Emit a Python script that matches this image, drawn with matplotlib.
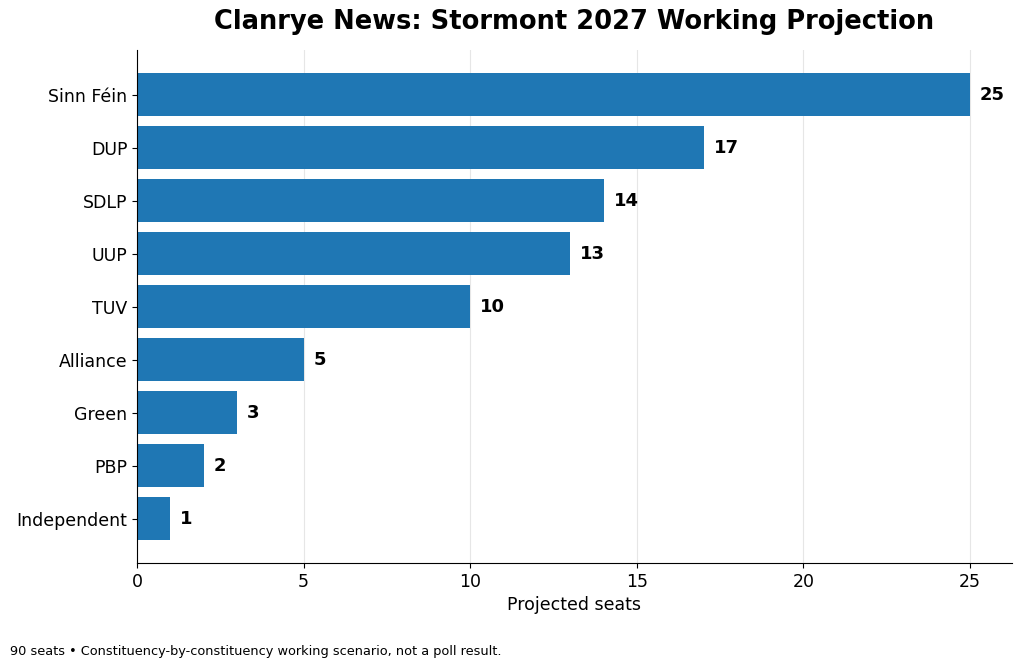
import matplotlib
matplotlib.use("Agg")
import matplotlib.pyplot as plt

parties = ["Sinn Féin", "DUP", "SDLP", "UUP", "TUV", "Alliance", "Green", "PBP", "Independent"]
seats = [25, 17, 14, 13, 10, 5, 3, 2, 1]

fig = plt.figure(figsize=(10.23, 6.68), dpi=100)
ax = fig.add_axes([0.134, 0.157, 0.855, 0.768])
y = list(range(len(parties)))[::-1]
ax.barh(y, seats, height=0.8, color="#1f77b4", zorder=2)
ax.set_yticks(y)
ax.set_yticklabels(parties, fontsize=12.5)
ax.tick_params(axis="x", labelsize=12.5)
for yi, s in zip(y, seats):
    ax.text(s + 0.3, yi, str(s), va="center", ha="left", fontsize=13, fontweight="bold")
ax.set_xlim(0, 26.25)
ax.set_xlabel("Projected seats", fontsize=12.5)
ax.set_title("Clanrye News: Stormont 2027 Working Projection", fontsize=18.5, fontweight="bold", pad=15)
ax.grid(axis="x", color="#e6e6e6", linewidth=0.8, zorder=0)
ax.spines["top"].set_visible(False)
ax.spines["right"].set_visible(False)
fig.text(0.01, 0.019, "90 seats • Constituency-by-constituency working scenario, not a poll result.", fontsize=9.3)
fig.savefig("out.png", dpi=100)
